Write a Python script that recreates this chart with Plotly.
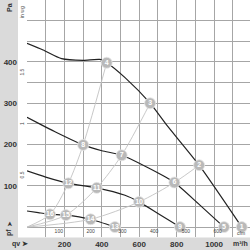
import plotly.graph_objects as go

# Fan curves: qv (m³/h) vs static pressure pf (Pa)
c1_q = [0, 86, 185, 300, 390, 426, 524, 658, 747, 920, 1148]
c1_p = [445, 429, 408, 404, 406, 398, 362, 300, 247, 150, 0]
c2_q = [0, 80, 150, 300, 400, 506, 650, 788, 920, 1053]
c2_p = [266, 247, 231, 199, 185, 174, 143, 108, 55, 0]
c3_q = [0, 100, 221, 373, 524, 599, 700, 818]
c3_p = [136, 121, 106, 95, 77, 61, 33, 0]
c4_q = [0, 60, 123, 208, 340, 470]
c4_p = [39, 35, 31, 29, 19, 0]

# System curves through the operating points
s1_q = [0, 123, 221, 300, 426]
s1_p = [0, 31, 106, 199, 398]
s2_q = [0, 208, 373, 506, 658]
s2_p = [0, 29, 95, 174, 300]
s3_q = [0, 340, 599, 788, 920]
s3_p = [0, 19, 61, 108, 150]

# Numbered operating points
op_q = [1148, 920, 658, 426, 1053, 788, 506, 300, 818, 599, 373, 221, 470, 340, 208, 123]
op_p = [0, 150, 300, 398, 0, 108, 174, 199, 0, 61, 95, 106, 0, 19, 29, 31]
op_lbl = [str(i) for i in range(1, 17)]

# Axis ticks
pa_grid = list(range(0, 551, 50))
pa_text = ["", "", "100", "", "200", "", "300", "", "400", "", "", ""]
q_grid = list(range(0, 1101, 100))
q_text = ["", "", "200", "", "400", "", "600", "", "800", "", "1000", ""]
cfm_ticks = [0, 100, 200, 300, 400, 500, 600]
inwg_ticks = [0.5, 1, 1.5]
inwg_text = ["0.5", "1", "1.5"]

W = H = 250
X0 = 27      # left edge of plot area (px)
YB = 237     # bottom edge of plot area (px)
QMAX = 1192
PMIN, PMAX = -24, 550
FONT = "Liberation Sans"

fig = go.Figure()

for sq, sp in [(s1_q, s1_p), (s2_q, s2_p), (s3_q, s3_p)]:
    fig.add_trace(go.Scatter(x=sq, y=sp, mode="lines", line=dict(color="#c2c2c2", width=0.9, shape="spline", smoothing=0.8),
                             hoverinfo="skip", showlegend=False))

for cq, cp in [(c1_q, c1_p), (c2_q, c2_p), (c3_q, c3_p), (c4_q, c4_p)]:
    fig.add_trace(go.Scatter(x=cq, y=cp, mode="lines", line=dict(color="#222222", width=1.2, shape="spline", smoothing=0.6),
                             hoverinfo="skip", showlegend=False))

fig.add_trace(go.Scatter(x=op_q, y=op_p, mode="markers+text", text=op_lbl, textposition="middle center",
                         textfont=dict(family=FONT, size=7, color="#ffffff", weight="bold"),
                         marker=dict(size=11, color="#b9b9b9", line=dict(color="#e6e6e6", width=0.8)),
                         showlegend=False, cliponaxis=False))

# dummy traces to activate secondary axes
fig.add_trace(go.Scatter(x=[0], y=[0], xaxis="x2", yaxis="y", mode="markers", marker=dict(opacity=0), showlegend=False, hoverinfo="skip"))
fig.add_trace(go.Scatter(x=[0], y=[0], xaxis="x", yaxis="y2", mode="markers", marker=dict(opacity=0), showlegend=False, hoverinfo="skip"))

dom_x = [X0 / W, 1]
dom_y = [(H - YB) / H, 1]

fig.update_layout(
    width=W, height=H, margin=dict(l=0, r=0, t=0, b=0),
    paper_bgcolor="white", plot_bgcolor="white",
    font=dict(family=FONT, color="#333333"),
    xaxis=dict(domain=dom_x, range=[0, QMAX], tickvals=q_grid, ticktext=q_text, showgrid=True,
               gridcolor="#a6a6a6", gridwidth=1, zeroline=False, ticks="", ticklabelstandoff=1,
               tickfont=dict(size=8, family=FONT, color="#333333", weight="bold"), fixedrange=True),
    yaxis=dict(domain=dom_y, range=[PMIN, PMAX], tickvals=pa_grid, ticktext=pa_text, showgrid=True,
               gridcolor="#a6a6a6", gridwidth=1, zeroline=False, ticks="", ticklabelstandoff=9,
               tickfont=dict(size=8, family=FONT, color="#333333", weight="bold"), fixedrange=True),
    xaxis2=dict(overlaying="x", anchor="y", side="bottom", range=[0, QMAX / 1.699], tickvals=cfm_ticks,
                ticklabelposition="inside", showgrid=False, zeroline=False, ticks="",
                tickfont=dict(size=5, family=FONT, color="#444444")),
    yaxis2=dict(overlaying="y", anchor="x", side="left", range=[PMIN / 249.09, PMAX / 249.09],
                tickvals=inwg_ticks, ticktext=inwg_text, tickangle=-90, showgrid=False, zeroline=False,
                ticks="", ticklabelstandoff=1, tickfont=dict(size=5, family=FONT, color="#444444")),
    shapes=[
        dict(type="rect", xref="paper", yref="paper", x0=0, x1=18 / W, y0=0, y1=1,
             fillcolor="#dadada", line=dict(width=0), layer="below"),
        dict(type="rect", xref="paper", yref="paper", x0=0, x1=1, y0=0, y1=12.5 / H,
             fillcolor="#dadada", line=dict(width=0), layer="below"),
    ],
)

def ann(px, py, text, size, angle=0, bold=False, color="#333333"):
    fig.add_annotation(xref="paper", yref="paper", x=px / W, y=1 - py / H, text=text, showarrow=False,
                       textangle=angle, font=dict(size=size, family=FONT, color=color, weight="bold" if bold else "normal"),
                       xanchor="center", yanchor="middle")

ann(9, 8, "Pa", 7, -90, True)
ann(22, 12, "in wg", 5, -90, False, "#444444")
ann(9, 224, "➤", 7, -90, False)
ann(9, 233, "pf", 7, -90, True)
ann(20, 243.5, "qv ➤", 7, 0, True)
ann(240, 243.5, "m³/h", 7, 0, True)
ann(241, 233, "cfm", 5, 0, False, "#444444")

fig.write_html("out.html")
